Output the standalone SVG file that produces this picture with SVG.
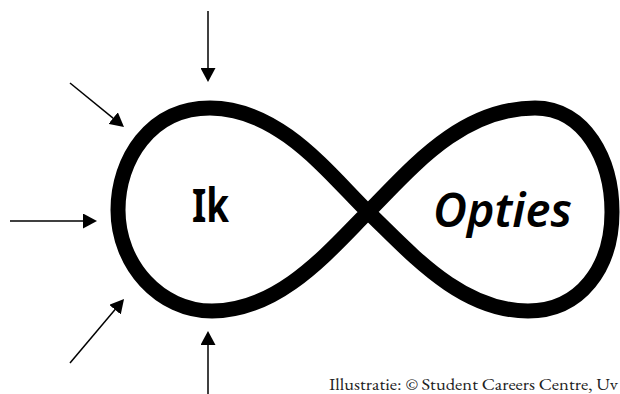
<svg xmlns="http://www.w3.org/2000/svg" width="620" height="394" viewBox="0 0 620 394">
  <defs>
    <style>
      .loop { fill: none; stroke: #000; stroke-width: 15; stroke-linejoin: round; }
      .arrow { fill: none; stroke: #000; stroke-width: 1.5; marker-end: url(#head); }
      .label { font-family: "Comic Sans MS", "Noto Sans", "DejaVu Sans", sans-serif; fill: #000; }
      .caption { font-family: "EB Garamond", "Liberation Serif", serif; font-size: 17.5px; fill: #222; }
    </style>
    <marker id="head" viewBox="0 0 14 15" refX="9" refY="7.5" markerWidth="14" markerHeight="15" markerUnits="userSpaceOnUse" orient="auto">
      <path d="M0,0 L14,7.5 L0,15 Z" fill="#000"/>
    </marker>
  </defs>
  <rect width="620" height="394" fill="#fff"/>

  <g id="infinity">
    <path class="loop" d="M 368 212 C 330 175, 280 108, 210 108 C 150 108, 118 160, 118 210 C 118 265, 160 311, 212 311 C 280 311, 330 250, 368 212 C 410 170, 460 108, 535 108 C 585 108, 612 160, 612 212 C 612 268, 580 311, 528 311 C 460 311, 410 252, 368 212 Z"/>
  </g>

  <g id="node-ik">
    <text class="label" x="192" y="222" font-size="47" font-weight="bold" textLength="37" lengthAdjust="spacingAndGlyphs">Ik</text>
  </g>

  <g id="node-opties">
    <text class="label" x="433" y="227" font-size="47" font-weight="600" font-style="italic" textLength="139" lengthAdjust="spacingAndGlyphs">Opties</text>
  </g>

  <g id="connectors">
    <line class="arrow" x1="208" y1="11" x2="208" y2="77"/>
    <line class="arrow" x1="70" y1="83" x2="120.1" y2="123.8"/>
    <line class="arrow" x1="10" y1="221" x2="92" y2="221"/>
    <line class="arrow" x1="70" y1="363" x2="120.8" y2="302.8"/>
    <line class="arrow" x1="208" y1="394" x2="208" y2="336"/>
  </g>

  <g id="caption">
    <text class="caption" x="329" y="390" textLength="289" lengthAdjust="spacingAndGlyphs">Illustratie: © Student Careers Centre, Uv</text>
  </g>
</svg>
